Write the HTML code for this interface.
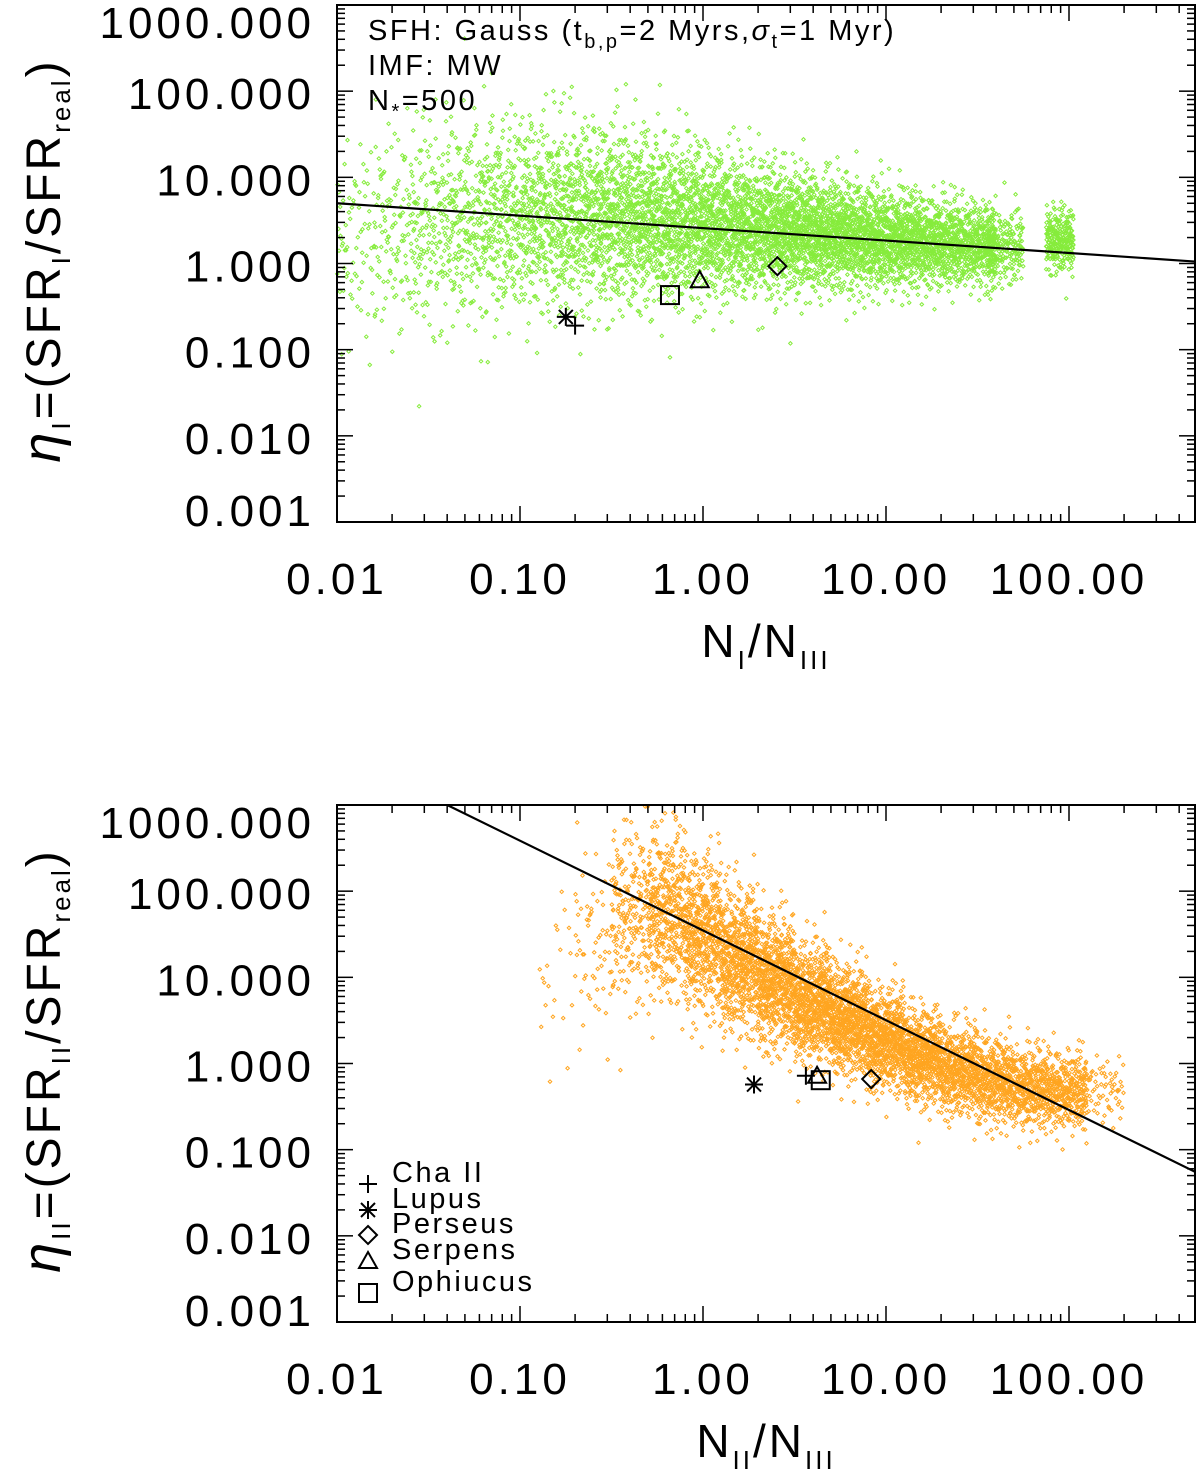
<!DOCTYPE html>
<html><head><meta charset="utf-8"><style>
body{margin:0;background:#fff}
svg text{font-family:"Liberation Sans",sans-serif;fill:#000}
</style></head><body>
<svg id="c" width="1200" height="1471" viewBox="0 0 1200 1471" xmlns="http://www.w3.org/2000/svg"></svg>
<script>
// ---- data ----
const xTickLabels=["0.01","0.10","1.00","10.00","100.00"];
const xTickVals=[0.01,0.1,1,10,100];
const yTickLabels=["1000.000","100.000","10.000","1.000","0.100","0.010","0.001"];
const yTickVals=[1000,100,10,1,0.1,0.01,0.001];
// cloud description: log10 x bin centers, mean log10 y, spread, counts
const topBinX=[-1.9,-1.7,-1.5,-1.3,-1.1,-0.9,-0.7,-0.5,-0.3,-0.1,0.1,0.3,0.5,0.7,0.9,1.1,1.3,1.5,1.65,1.95];
const topBinY=[0.3,0.38,0.45,0.5,0.55,0.57,0.57,0.55,0.52,0.48,0.45,0.42,0.38,0.34,0.3,0.27,0.24,0.22,0.2,0.27];
const topBinSd=[0.6,0.6,0.6,0.58,0.56,0.54,0.52,0.5,0.47,0.44,0.4,0.37,0.34,0.31,0.29,0.27,0.25,0.23,0.22,0.18];
const topBinN=[70,110,160,210,260,310,360,410,450,480,500,520,540,540,520,500,450,400,200,260];
const botBinX=[-0.8,-0.6,-0.4,-0.2,0,0.2,0.4,0.6,0.8,1.0,1.2,1.4,1.6,1.8,2.0,2.2];
const botBinY=[1.0,1.4,1.75,1.75,1.5,1.2,0.95,0.7,0.5,0.28,0.08,-0.08,-0.2,-0.28,-0.32,-0.3];
const botBinSd=[0.55,0.55,0.52,0.48,0.44,0.4,0.36,0.32,0.3,0.28,0.26,0.25,0.24,0.23,0.22,0.2];
const botBinN=[20,60,200,380,480,540,580,600,600,560,520,460,400,350,300,60];
// fits: [x,y] endpoints in data units
const topFit=[[0.01,5.0],[500,1.05]];
const botFit=[[0.04,1000],[500,0.054]];
// regions
const regNames=["Cha II","Lupus","Perseus","Serpens","Ophiucus"];
const regSym=["plus","star","diamond","triangle","square"];
const regTopX=[0.2,0.178,2.55,0.96,0.66];
const regTopY=[0.19,0.24,0.93,0.64,0.43];
const regBotX=[3.65,1.9,8.3,4.2,4.4];
const regBotY=[0.72,0.57,0.66,0.72,0.64];

const NS="http://www.w3.org/2000/svg";
const svg=document.getElementById('c');
function el(t,a,p){const e=document.createElementNS(NS,t);for(const k in a)e.setAttribute(k,a[k]);(p||svg).appendChild(e);return e;}
const X0=337,X1=1195,DEC=183;
function sx(v){return X0+(Math.log10(v)+2)*DEC;}
function halton(i,b){let f=1,r=0;while(i>0){f/=b;r+=f*(i%b);i=Math.floor(i/b);}return r;}

function panel(name,yTop,yBot,binX,binY,binSd,binN,color,fit,rx,ry,xlab,ylab,showLegend,showText){
  const g=el('g',{});
  
  
  const dec=(yBot-yTop)/6;
  const sy=v=>yBot-(Math.log10(v)+3)*dec;
  const cg=el('g',{fill:'none',stroke:color,'stroke-width':1},g);
  
  
  let idx=1;
  for(let b=0;b<binX.length;b++){
    for(let k=0;k<binN[b];k++,idx++){
      const u1=halton(idx,2)||0.5,u2=halton(idx,3),u3=halton(idx,5);
      const z=Math.sqrt(-2*Math.log(u1))*Math.cos(2*Math.PI*u2);
      const lx=binX[b]+(u3-0.5)*(b==binX.length-1&&name==='top-panel'?0.15:0.2);
      const ly=binY[b]+z*binSd[b];
      const px=X0+(lx+2)*DEC,py=yBot-(ly+3)*dec;
      if(px<X0||px>X1||py<yTop||py>yBot)continue;
      el('path',{d:`M${(px-1.8).toFixed(1)} ${py.toFixed(1)}l1.8 -1.8l1.8 1.8l-1.8 1.8z`},cg);
    }
  }
  const cp=el('clipPath',{id:'cl'+name},g);el('rect',{x:X0,y:yTop,width:X1-X0,height:yBot-yTop},cp);
  const ln=el('line',{x1:sx(fit[0][0]),y1:sy(fit[0][1]),x2:sx(fit[1][0]),y2:sy(fit[1][1]),stroke:'#000','stroke-width':2.2,'clip-path':'url(#cl'+name+')'},g);
  
  
  el('rect',{x:X0,y:yTop,width:X1-X0,height:yBot-yTop,fill:'none',stroke:'#000','stroke-width':2},g);
  for(let d=-2;d<3;d++)for(let m=1;m<10;m++){
    const v=m*Math.pow(10,d),x=sx(v);if(x>X1)continue;
    const L=m==1?16:8;
    el('line',{x1:x,y1:yBot,x2:x,y2:yBot-L,stroke:'#000','stroke-width':1.5},g);
    el('line',{x1:x,y1:yTop,x2:x,y2:yTop+L,stroke:'#000','stroke-width':1.5},g);
  }
  for(let d=-3;d<3;d++)for(let m=1;m<=10;m++){
    if(m==10&&d<2)continue;
    const v=m*Math.pow(10,d),y=sy(v);const L=(m==1||m==10)?16:8;
    el('line',{x1:X0,y1:y,x2:X0+L,y2:y,stroke:'#000','stroke-width':1.5},g);
    el('line',{x1:X1,y1:y,x2:X1-L,y2:y,stroke:'#000','stroke-width':1.5},g);
  }
  xTickVals.forEach((v,i)=>{const t=el('text',{x:sx(v),y:yBot+72,'font-size':44,'letter-spacing':4,'text-anchor':'middle'},g);t.textContent=xTickLabels[i];
    });
  yTickVals.forEach((v,i)=>{let y=sy(v)+18;if(i==6)y-=14;if(i==0)y+=15;const t=el('text',{x:X0-22,y:y,'font-size':44,'letter-spacing':4,'text-anchor':'end'},g);t.textContent=yTickLabels[i];
    });
  for(let i=0;i<rx.length;i++){const m=marker(regSym[i],sx(rx[i]),sy(ry[i]),g);}
  const xt=el('text',{x:766,y:yBot+135,'font-size':46,'letter-spacing':3,'text-anchor':'middle'},g);
  xt.innerHTML=xlab;
  
  const yt=el('text',{x:0,y:0,'font-size':48,'letter-spacing':3,'text-anchor':'middle',transform:`translate(60,${(yTop+yBot)/2-3}) rotate(-90)`},g);
  yt.innerHTML=ylab;
  
  if(showText){
    const lines=['SFH: Gauss (t<tspan font-size="20" dy="8">b,p</tspan><tspan dy="-8">=2 Myrs,</tspan><tspan font-style="italic">σ</tspan><tspan font-size="20" dy="8">t</tspan><tspan dy="-8">=1 Myr)</tspan>','IMF: MW','N<tspan font-size="20" dy="8">*</tspan><tspan dy="-8">=500</tspan>'];
    lines.forEach((s,i)=>{const t=el('text',{x:368,y:40+i*35,'font-size':29,'letter-spacing':2.5},g);t.innerHTML=s;});
  }
  if(showLegend){
    const lg=el('g',{},g);
    const ys=[1184,1210,1235,1261,1293];
    regNames.forEach((n,i)=>{
      const e=el('g',{},lg);
      marker(regSym[i],368,ys[i],e);
      const t=el('text',{x:392,y:ys[i]-2,'font-size':29,'letter-spacing':2.5},e);t.textContent=n;
    });
  }
}
function marker(s,x,y,p){
  const g=el('g',{fill:'none',stroke:'#000','stroke-width':2},p);
  const r=9;
  if(s=='plus'){el('path',{d:`M${x-r} ${y}H${x+r}M${x} ${y-r}V${y+r}`},g);}
  else if(s=='star'){el('path',{d:`M${x-r} ${y}H${x+r}M${x} ${y-r}V${y+r}M${x-7} ${y-7}L${x+7} ${y+7}M${x-7} ${y+7}L${x+7} ${y-7}`},g);}
  else if(s=='diamond'){el('path',{d:`M${x} ${y-r}L${x+r} ${y}L${x} ${y+r}L${x-r} ${y}Z`},g);}
  else if(s=='triangle'){el('path',{d:`M${x} ${y-r}L${x+r} ${y+7}L${x-r} ${y+7}Z`},g);}
  else {el('rect',{x:x-r,y:y-r,width:2*r,height:2*r},g);}
  return g;
}
panel('top-panel',5,522,topBinX,topBinY,topBinSd,topBinN,'#86ec3c',topFit,regTopX,regTopY,
 'N<tspan font-size="26" dy="12">I</tspan><tspan dy="-12">/N</tspan><tspan font-size="26" dy="12">III</tspan>',
 '<tspan font-style="italic" font-size="54">η</tspan><tspan font-size="26" dy="10">I</tspan><tspan dy="-10">=(SFR</tspan><tspan font-size="26" dy="10">I</tspan><tspan dy="-10">/SFR</tspan><tspan font-size="26" dy="10">real</tspan><tspan dy="-10">)</tspan>',false,true);
panel('bottom-panel',805,1322,botBinX,botBinY,botBinSd,botBinN,'#ffa520',botFit,regBotX,regBotY,
 'N<tspan font-size="26" dy="12">II</tspan><tspan dy="-12">/N</tspan><tspan font-size="26" dy="12">III</tspan>',
 '<tspan font-style="italic" font-size="54">η</tspan><tspan font-size="26" dy="10">II</tspan><tspan dy="-10">=(SFR</tspan><tspan font-size="26" dy="10">II</tspan><tspan dy="-10">/SFR</tspan><tspan font-size="26" dy="10">real</tspan><tspan dy="-10">)</tspan>',true,false);
</script>
</body></html>
